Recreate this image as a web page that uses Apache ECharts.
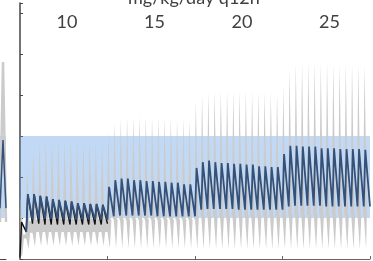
<!DOCTYPE html>
<html>
<head>
<meta charset="utf-8">
<script src="https://cdn.jsdelivr.net/npm/echarts@6/dist/echarts.min.js"></script>
<style>
  html, body { margin: 0; padding: 0; background: #fff; }
  #chart { width: 373px; height: 261px; }
</style>
</head>
<body>
<div id="chart"></div>
<script>
// dosing q12h, 4 dose levels of 7 days each (14 doses per level)
const titleText = 'mg/kg/day q12h'
const doseLabels = ['10', '15', '20', '25']
const targetRange = [5, 15]

// median concentration: peak after each dose, trough before each dose (+ final trough)
const bluePeak = [
  null, 7.9, 7.9, 7.7, 7.6, 7.3, 7.2, 7.1, 7.0, 6.8, 6.8, 6.7, 6.7, 6.6,
  8.8, 9.6, 9.8, 9.8, 9.6, 9.6, 9.5, 9.5, 9.4, 9.4, 9.3, 9.3, 9.1, 9.1,
  11.1, 11.8, 12.0, 11.8, 11.7, 11.7, 11.6, 11.6, 11.5, 11.5, 11.3, 11.3, 11.2, 11.2,
  12.8, 13.8, 13.8, 13.7, 13.7, 13.7, 13.5, 13.5, 13.5, 13.4, 13.4, 13.4, 13.4, 13.3,
]
const blueTrough = [
  null, 3.3, 4.8, 4.9, 4.9, 4.9, 4.9, 4.8, 4.8, 4.8, 4.8, 4.8, 4.8, 4.8,
  4.8, 5.2, 5.3, 5.3, 5.3, 5.3, 5.3, 5.3, 5.2, 5.2, 5.2, 5.2, 5.2, 5.2,
  5.2, 6.0, 6.1, 6.1, 6.1, 6.1, 6.1, 6.0, 6.0, 6.0, 6.0, 6.0, 6.0, 6.0,
  6.0, 6.4, 6.5, 6.5, 6.5, 6.5, 6.5, 6.4, 6.4, 6.4, 6.4, 6.4, 6.4, 6.4,
  6.4,
]

// black trace, first dose level only
const blackPeak = [4.5, 7.9, 7.9, 7.7, 7.6, 7.3, 7.2, 7.1, 7.0, 6.8, 6.8, 6.7, 6.7, 6.6]
const blackTrough = [0.2, 3.3, 4.3, 4.3, 4.2, 4.2, 4.2, 4.2, 4.2, 4.2, 4.2, 4.2, 4.2, 4.2, 4.3]

// grey band: spike extent at each dose, and band between doses (at each trough time)
const greyTop = [
  7.5, 11.2, 13.2, 14.4, 14.7, 14.8, 14.7, 14.6, 14.6, 14.5, 14.4, 14.4, 14.3, 14.3,
  15.6, 16.6, 17.1, 17.3, 17.4, 17.4, 17.3, 17.3, 17.2, 17.2, 17.2, 17.1, 17.1, 17.0,
  19.2, 20.0, 20.4, 20.5, 20.6, 20.6, 20.5, 20.5, 20.5, 20.4, 20.4, 20.4, 20.3, 20.3,
  21.0, 23.2, 23.8, 23.9, 24.0, 24.0, 23.9, 23.9, 23.9, 23.8, 23.8, 23.8, 23.7, 23.7,
]
const greyBottom = [
  0.5, 1.2, 1.5, 1.6, 1.6, 1.6, 1.6, 1.6, 1.6, 1.6, 1.6, 1.6, 1.6, 1.6,
  1.3, 1.3, 1.3, 1.3, 1.3, 1.3, 1.3, 1.3, 1.3, 1.3, 1.3, 1.3, 1.3, 1.3,
  1.2, 1.2, 1.2, 1.2, 1.2, 1.2, 1.2, 1.2, 1.2, 1.2, 1.2, 1.2, 1.2, 1.2,
  1.2, 1.2, 1.2, 1.2, 1.2, 1.2, 1.2, 1.2, 1.2, 1.2, 1.2, 1.2, 1.2, 1.2,
]
const greyBaseHi = [
  0.2, 3.0, 4.6, 4.8, 4.9, 4.9, 4.9, 4.9, 4.9, 4.9, 4.9, 4.9, 4.9, 4.9,
  4.9, 4.8, 4.8, 4.8, 4.8, 4.8, 4.8, 4.8, 4.8, 4.8, 4.8, 4.8, 4.8, 4.8,
  4.8, 5.2, 5.2, 5.2, 5.2, 5.2, 5.2, 5.2, 5.2, 5.2, 5.2, 5.2, 5.2, 5.2,
  5.2, 5.4, 5.4, 5.4, 5.4, 5.4, 5.4, 5.4, 5.4, 5.4, 5.4, 5.4, 5.4, 5.4,
  5.4,
]
const greyBaseLo = [
  0.2, 2.5, 3.2, 3.3, 3.3, 3.3, 3.3, 3.3, 3.3, 3.3, 3.3, 3.3, 3.3, 3.3,
  3.3, 4.8, 4.8, 4.8, 4.8, 4.8, 4.8, 4.8, 4.8, 4.8, 4.8, 4.8, 4.8, 4.8,
  4.8, 5.2, 5.2, 5.2, 5.2, 5.2, 5.2, 5.2, 5.2, 5.2, 5.2, 5.2, 5.2, 5.2,
  5.2, 5.4, 5.4, 5.4, 5.4, 5.4, 5.4, 5.4, 5.4, 5.4, 5.4, 5.4, 5.4, 5.4,
  5.4,
]

// edge of the previous panel
const prevGrey = [4.5, 24.0, 4.5]
const prevBlue = [6.2, 14.5, 6.2]

// time in days, a point every 1/16 day; dose at every 8th point
const times = []
for (let i = 0; i <= 448; i++) times.push((i / 16).toFixed(4))

// trough at dose time, peak two steps later, then straight decay to next trough
function doseCurve(peaks, troughs) {
  const out = []
  peaks.forEach((p, k) => {
    out.push(troughs[k] == null ? '-' : troughs[k], '-')
    out.push(p == null ? '-' : p)
    out.push('-', '-', '-', '-', '-')
  })
  out.push(troughs[peaks.length])
  return out
}

// band limit: spike value around dose peak, base value elsewhere
function bandLimit(spike, base) {
  const out = []
  spike.forEach((s, k) => {
    const b = base[k + 1]
    out.push(base[k], s, s, s, b, b, b, b)
  })
  out.push(base[spike.length])
  return out
}

const blueData = doseCurve(bluePeak, blueTrough)
const blackData = doseCurve(blackPeak, blackTrough)
const hiData = bandLimit(greyTop, greyBaseHi)
const loData = bandLimit(greyBottom, greyBaseLo)
const bandData = hiData.map((v, i) => +(v - loData[i]).toFixed(2))

const font = 'Lato, "Open Sans", sans-serif'
const bandColor = 'rgba(95, 155, 230, 0.38)'
const greyColor = '#cbcbcb'
const chart = echarts.init(document.getElementById('chart'))

chart.setOption({
  animation: false,
  title: {
    text: titleText,
    left: 123,
    top: -16,
    textStyle: { fontFamily: font, fontSize: 18, fontWeight: 'normal', color: '#404040' },
  },
  grid: [
    { left: 20, right: 3, top: 3, bottom: 2 },
    { left: 0, width: 6, top: 3, bottom: 2 },
  ],
  xAxis: [
    {
      type: 'category',
      gridIndex: 0,
      data: times,
      boundaryGap: false,
      axisLine: { lineStyle: { color: '#666', width: 1 } },
      axisTick: { inside: true, length: 3, interval: (i) => i % 112 === 0, lineStyle: { color: '#666' } },
      axisLabel: { show: false },
    },
    {
      type: 'category',
      gridIndex: 0,
      data: times,
      boundaryGap: false,
      position: 'top',
      offset: -30,
      axisLine: { show: false },
      axisTick: { show: false },
      axisLabel: {
        interval: (i) => i % 112 === 60,
        formatter: (v, i) => doseLabels[(i - 60) / 112],
        fontFamily: font,
        fontSize: 18,
        color: '#404040',
        margin: 2,
      },
    },
    {
      type: 'category',
      gridIndex: 1,
      data: ['a', 'b', 'c'],
      boundaryGap: false,
      axisLine: { lineStyle: { color: '#444' } },
      axisTick: { show: false },
      axisLabel: { show: false },
    },
  ],
  yAxis: [
    {
      type: 'value',
      gridIndex: 0,
      min: 0,
      max: 31.2,
      interval: 5,
      axisLine: { show: true, lineStyle: { color: '#444', width: 1.5 } },
      axisTick: { show: true, inside: true, length: 3, lineStyle: { color: '#444' } },
      axisLabel: { show: false },
      splitLine: { show: false },
    },
    { type: 'value', gridIndex: 1, min: 0, max: 31.2, show: false },
  ],
  series: [
    {
      type: 'line',
      stack: 'grey',
      data: loData,
      symbol: 'none',
      silent: true,
      lineStyle: { width: 0, opacity: 0 },
    },
    {
      type: 'line',
      stack: 'grey',
      data: bandData,
      symbol: 'none',
      silent: true,
      lineStyle: { width: 0, opacity: 0 },
      areaStyle: { color: greyColor, opacity: 1 },
    },
    {
      type: 'line',
      data: blueData,
      symbol: 'none',
      silent: true,
      connectNulls: true,
      lineStyle: { opacity: 0 },
      markArea: {
        silent: true,
        itemStyle: { color: bandColor },
        data: [[{ yAxis: targetRange[0] }, { yAxis: targetRange[1] }]],
      },
    },
    {
      type: 'line',
      data: blackData,
      symbol: 'none',
      connectNulls: true,
      lineStyle: { color: '#111', width: 1.4 },
    },
    {
      type: 'line',
      data: blueData,
      symbol: 'none',
      connectNulls: true,
      lineStyle: { color: '#34517a', width: 1.8 },
    },
    {
      type: 'line',
      xAxisIndex: 2,
      yAxisIndex: 1,
      data: prevGrey,
      symbol: 'none',
      lineStyle: { color: greyColor, width: 2.5 },
      markArea: {
        silent: true,
        itemStyle: { color: bandColor },
        data: [[{ yAxis: targetRange[0] }, { yAxis: targetRange[1] }]],
      },
    },
    {
      type: 'line',
      xAxisIndex: 2,
      yAxisIndex: 1,
      data: prevBlue,
      symbol: 'none',
      lineStyle: { color: '#34517a', width: 1.5 },
    },
  ],
})
</script>
</body>
</html>
